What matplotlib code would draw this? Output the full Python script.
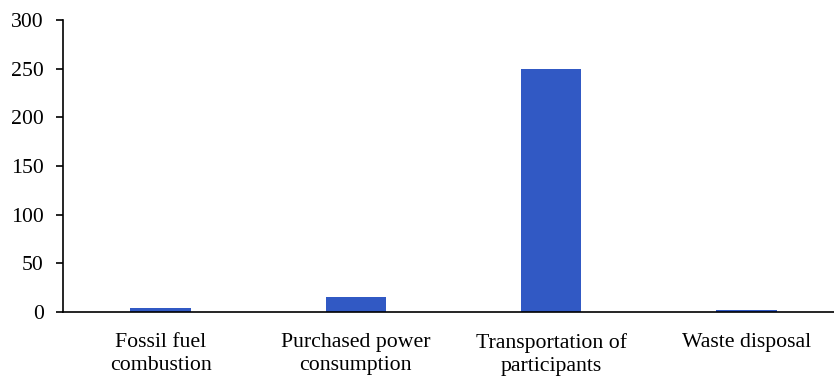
import matplotlib.pyplot as plt

# emissions by source
categories = ['Fossil fuel\ncombustion', 'Purchased power\nconsumption',
              'Transportation of\nparticipants', 'Waste disposal']
values = [4, 15, 250, 2]

plt.rcParams['font.family'] = ['Liberation Serif', 'DejaVu Serif']

fig = plt.figure(figsize=(8.34, 3.76), dpi=100)
ax = fig.add_axes([0.0755, 0.170, 0.9365, 0.777])

x = range(len(categories))
ax.bar(x, values, width=0.31, color='#3159c4')

ax.set_xlim(-0.5, 3.5)
ax.set_ylim(0, 300)
ax.set_yticks([0, 50, 100, 150, 200, 250, 300])
ax.set_xticks(list(x))
ax.set_xticklabels(categories, fontsize=15.7, linespacing=1.3)
ax.tick_params(axis='x', length=0, pad=15)
ax.tick_params(axis='y', labelsize=15.7, length=5, width=1.2, pad=9)

ax.spines['top'].set_visible(False)
ax.spines['right'].set_visible(False)
ax.spines['left'].set_linewidth(1.2)
ax.spines['bottom'].set_linewidth(1.2)

fig.savefig('out.png', dpi=100)
